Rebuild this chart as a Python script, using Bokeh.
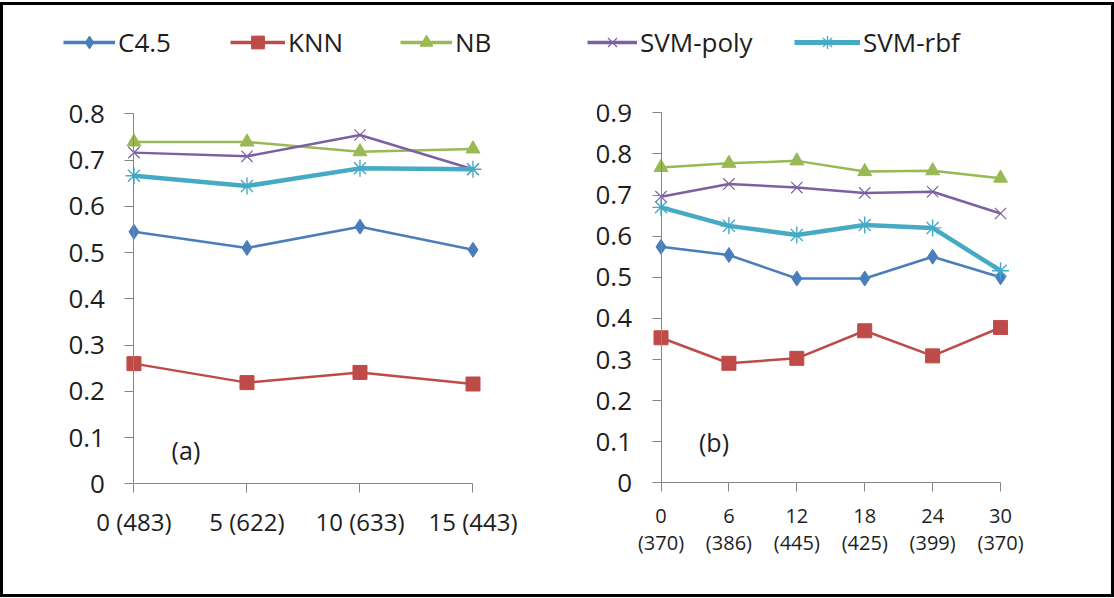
from bokeh.plotting import figure
from bokeh.models import (Range1d, FixedTicker, Legend, LegendItem, Label)
from bokeh.layouts import column, row
from bokeh.embed import file_html
from bokeh.resources import INLINE

# ---------------- data ----------------
series_names = ["C4.5", "KNN", "NB", "SVM-poly", "SVM-rbf"]

x_a_labels = ["0 (483)", "5 (622)", "10 (633)", "15 (443)"]
c45_a = [0.545, 0.510, 0.556, 0.506]
knn_a = [0.260, 0.219, 0.241, 0.216]
nb_a = [0.739, 0.739, 0.718, 0.724]
poly_a = [0.716, 0.708, 0.754, 0.680]
rbf_a = [0.666, 0.644, 0.682, 0.680]

x_b_labels = ["0\n(370)", "6\n(386)", "12\n(445)", "18\n(425)", "24\n(399)", "30\n(370)"]
c45_b = [0.574, 0.554, 0.497, 0.497, 0.550, 0.500]
knn_b = [0.353, 0.291, 0.303, 0.370, 0.309, 0.378]
nb_b = [0.767, 0.777, 0.783, 0.757, 0.759, 0.741]
poly_b = [0.696, 0.727, 0.718, 0.705, 0.708, 0.655]
rbf_b = [0.670, 0.625, 0.603, 0.627, 0.620, 0.516]

y_a_ticks = [0, 0.1, 0.2, 0.3, 0.4, 0.5, 0.6, 0.7, 0.8]
y_b_ticks = [0, 0.1, 0.2, 0.3, 0.4, 0.5, 0.6, 0.7, 0.8, 0.9]

# ---------------- styles ----------------
FONT = "Open Sans"
TXT = "#1e1e1e"
AXIS = "#868686"
NAN = float("nan")
styles = {
    "C4.5": dict(color="#4a7ebb", marker="diamond", size=15, lw=2.5, mlw=1),
    "KNN": dict(color="#be4b48", marker="square", size=14, lw=2.5, mlw=1),
    "NB": dict(color="#98b954", marker="triangle", size=14, lw=2.5, mlw=1),
    "SVM-poly": dict(color="#7d60a0", marker="x", size=16, lw=2.5, mlw=1.2),
    "SVM-rbf": dict(color="#46aac5", marker="asterisk", size=17, lw=4.5, mlw=1.4),
}


def style_axes(p, xlabels, xfont, ylabels_ticks):
    p.xgrid.visible = False
    p.ygrid.visible = False
    p.outline_line_color = None
    for ax in (p.xaxis[0], p.yaxis[0]):
        ax.axis_line_color = AXIS
        ax.major_tick_line_color = AXIS
        ax.minor_tick_line_color = None
        ax.major_tick_in = 0
        ax.major_tick_out = 9
        ax.major_label_text_font = FONT
        ax.major_label_text_color = TXT
        ax.fixed_location = 0
    xa = p.xaxis[0]
    xa.ticker = FixedTicker(ticks=list(range(len(xlabels))))
    xa.major_label_overrides = {i: lab for i, lab in enumerate(xlabels)}
    xa.major_label_text_font_size = xfont
    xa.bounds = (0, len(xlabels) - 1)
    ya = p.yaxis[0]
    ya.ticker = FixedTicker(ticks=ylabels_ticks)
    ya.major_label_overrides = {0: "0"}
    ya.major_label_text_font_size = "26px"
    ya.major_label_standoff = 20
    ya.bounds = (0, ylabels_ticks[-1])


def draw_series(p, data):
    for name, ys in zip(series_names, data):
        s = styles[name]
        xs = list(range(len(ys)))
        p.line(xs, ys, line_color=s["color"], line_width=s["lw"])
        p.scatter(xs, ys, marker=s["marker"], size=s["size"], fill_color=s["color"],
                  line_color=s["color"], line_width=s["mlw"])


# ---------------- plot (a) ----------------
pa = figure(output_backend="svg", toolbar_location=None,
            x_range=Range1d(-0.65, 3.5), y_range=Range1d(-0.2, 0.82),
            frame_width=469, frame_height=472, width=557, height=509,
            min_border_left=57, min_border_right=31,
            min_border_top=18, min_border_bottom=19)
style_axes(pa, x_a_labels, "24px", y_a_ticks)
pa.xaxis[0].major_label_standoff = 12
draw_series(pa, [c45_a, knn_a, nb_a, poly_a, rbf_a])
pa.add_layout(Label(x=0.46, y=0.073, text="(a)", text_align="center",
                    text_baseline="middle", text_font=FONT, text_font_size="25px",
                    text_color=TXT))

# ---------------- plot (b) ----------------
pb = figure(output_backend="svg", toolbar_location=None,
            x_range=Range1d(-0.95, 5.5), y_range=Range1d(-0.22, 0.92),
            frame_width=438, frame_height=469, width=551, height=509,
            min_border_left=36, min_border_right=77,
            min_border_top=19, min_border_bottom=21)
style_axes(pb, x_b_labels, "20px", y_b_ticks)
pb.xaxis[0].major_label_standoff = 10
pb.xaxis[0].major_label_text_line_height = 1.0
draw_series(pb, [c45_b, knn_b, nb_b, poly_b, rbf_b])
pb.add_layout(Label(x=0.78, y=0.10, text="(b)", text_align="center",
                    text_baseline="middle", text_font=FONT, text_font_size="25px",
                    text_color=TXT))

# ---------------- legend strip ----------------
pl = figure(output_backend="svg", toolbar_location=None, width=1108, height=80,
            x_range=Range1d(0, 1108), y_range=Range1d(0, 80),
            min_border=0, outline_line_color=None)
pl.axis.visible = False
pl.grid.visible = False
leg_x = [60, 227, 397, 584, 791]
leg_w = [52, 55, 52, 50, 66]
for name, lx, gw in zip(series_names, leg_x, leg_w):
    s = styles[name]
    lr = pl.line([NAN], [NAN], line_color=s["color"],
                 line_width=3.5 if name != "SVM-rbf" else 5)
    sr = pl.scatter([NAN], [NAN], marker=s["marker"], size=s["size"], fill_color=s["color"],
                    line_color=s["color"], line_width=s["mlw"])
    leg = Legend(items=[LegendItem(label=name, renderers=[lr, sr])],
                 location=(lx, 25), padding=0, margin=0, spacing=0,
                 glyph_width=gw, glyph_height=32, label_height=32,
                 label_standoff=3, border_line_color=None,
                 background_fill_alpha=0, label_text_font=FONT,
                 label_text_font_size="26px", label_text_color=TXT)
    pl.add_layout(leg, "center")

layout = column(pl, row(pa, pb), margin=(2, 0, 0, 0),
                styles={"border": "3px solid black"})

open("out.html", "w").write(file_html(layout, INLINE))
